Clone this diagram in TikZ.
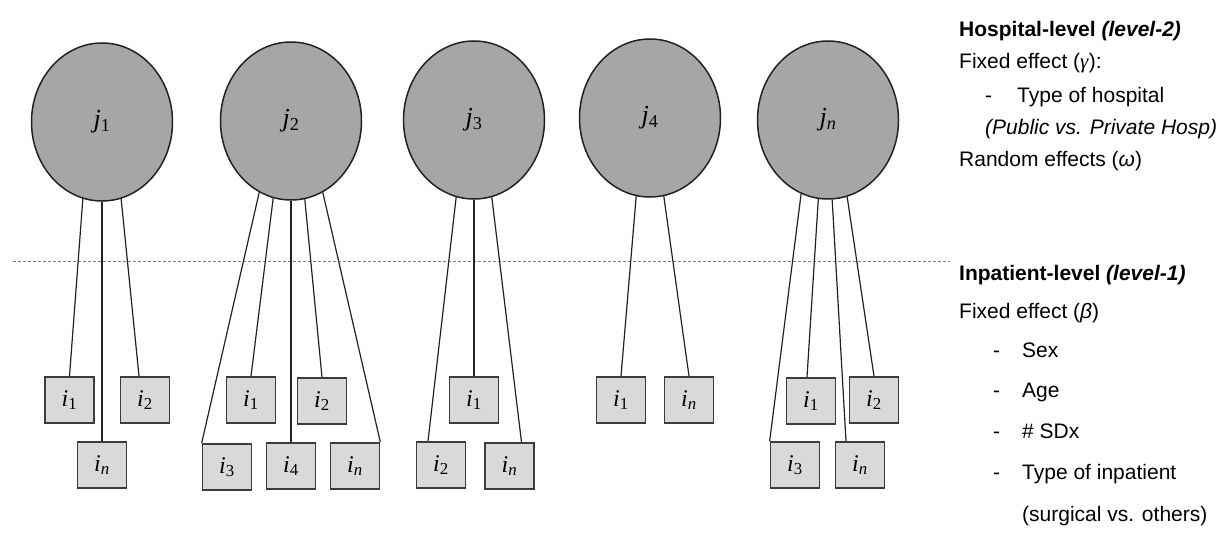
\documentclass[tikz,border=0pt]{standalone}
\usepackage{fontspec}
\setmainfont{Liberation Sans}
\newfontfamily\tmfont{Liberation Serif}
\usetikzlibrary{shapes.geometric}
\definecolor{rim}{RGB}{34,34,34}
\definecolor{boxrim}{RGB}{60,60,60}
\definecolor{hospfill}{RGB}{166,166,166}
\definecolor{patfill}{RGB}{217,217,217}
\definecolor{cut}{RGB}{128,128,128}

\begin{document}
\begin{tikzpicture}[x=1pt, y=-1pt, font=\fontsize{21}{25}\selectfont]
  \tikzset{
    hosp/.style={ellipse, draw=rim, line width=1.5pt, fill=hospfill,
      minimum width=141pt, minimum height=158pt, inner sep=0pt,
      font=\tmfont\fontsize{26}{26}\selectfont},
    pat/.style={rectangle, draw=boxrim, line width=1.7pt, fill=patfill,
      minimum width=49pt, minimum height=46pt, inner sep=0pt,
      font=\tmfont\fontsize{24}{24}\selectfont},
    link/.style={draw=rim, line width=1.2pt},
    split/.style={draw=cut, line width=1pt, dash pattern=on 3pt off 2pt},
    lbl/.style={anchor=base west, inner sep=0pt}}
  \useasboundingbox (0,0) rectangle (1218,535);

  % --- hospitals (level 2)
  \node[hosp] (j1) at (102,122) {\textit{j}\textsubscript{1}};
  \node[hosp] (j2) at (291,121) {\textit{j}\textsubscript{2}};
  \node[hosp] (j3) at (474,120) {\textit{j}\textsubscript{3}};
  \node[hosp] (j4) at (650,118) {\textit{j}\textsubscript{4}};
  \node[hosp] (jn) at (828,120) {\textit{j}\textsubscript{\textit{n}}};

  \draw[split] (13,261) -- (950,261);

  % --- inpatients (level 1)
  \node[pat] (j1b1) at (69.5,400) {\textit{i}\textsubscript{1}};
  \node[pat] (j1b2) at (145,400) {\textit{i}\textsubscript{2}};
  \node[pat] (j1bn) at (102,465) {\textit{i}\textsubscript{\textit{n}}};

  \node[pat] (j2b1) at (251,400) {\textit{i}\textsubscript{1}};
  \node[pat] (j2b2) at (322,401) {\textit{i}\textsubscript{2}};
  \node[pat] (j2b3) at (227,467) {\textit{i}\textsubscript{3}};
  \node[pat] (j2b4) at (291,466) {\textit{i}\textsubscript{4}};
  \node[pat] (j2bn) at (355,466) {\textit{i}\textsubscript{\textit{n}}};

  \node[pat] (j3b1) at (474,400) {\textit{i}\textsubscript{1}};
  \node[pat] (j3b2) at (441,465) {\textit{i}\textsubscript{2}};
  \node[pat] (j3bn) at (509.5,466) {\textit{i}\textsubscript{\textit{n}}};

  \node[pat] (j4b1) at (621,400) {\textit{i}\textsubscript{1}};
  \node[pat] (j4bn) at (689,400) {\textit{i}\textsubscript{\textit{n}}};

  \node[pat] (jnb1) at (811,401) {\textit{i}\textsubscript{1}};
  \node[pat] (jnb2) at (874,400) {\textit{i}\textsubscript{2}};
  \node[pat] (jnb3) at (795,465) {\textit{i}\textsubscript{3}};
  \node[pat] (jnbn) at (860,465) {\textit{i}\textsubscript{\textit{n}}};

  % --- nesting
  \draw[link] (j1.256) -- (j1b1.north);
  \draw[link] (j1.270) -- (j1bn.north);
  \draw[link] (j1.284) -- ([xshift=-6pt]j1b2.north);

  \draw[link] (j2.246) -- (j2b3.north west);
  \draw[link] (j2.257) -- (j2b1.north);
  \draw[link] (j2.270) -- (j2b4.north);
  \draw[link] (j2.280) -- (j2b2.north);
  \draw[link] (j2.294) -- (j2bn.north east);

  \draw[link] (j3.257) -- ([xshift=-13pt]j3b2.north);
  \draw[link] (j3.270) -- (j3b1.north);
  \draw[link] (j3.283) -- ([xshift=12pt]j3bn.north);

  \draw[link] (j4.260) -- (j4b1.north);
  \draw[link] (j4.280) -- (j4bn.north);

  \draw[link] (jn.250) -- (jnb3.north west);
  \draw[link] (jn.263) -- ([xshift=-4pt]jnb1.north);
  \draw[link] (jn.273) -- ([xshift=-14pt]jnbn.north);
  \draw[link] (jn.284) -- (jnb2.north);

  % --- what each level carries
  \node[lbl] (hlev) at (959,37) {\textbf{Hospital-level \textit{(level-2)}}};
  \node[lbl] (hfix) at (959,69) {Fixed effect ({\tmfont\textit{γ}}):};
  \node[lbl] (hdash) at (985,102) {-};
  \node[lbl] (htype) at (1017,102) {Type of hospital};
  \node[lbl] (hpub) at (985,134) {\textit{(Public vs. Private Hosp)}};
  \node[lbl] (hrand) at (959,166) {Random effects (\textit{ω})};

  \node[lbl] (plev) at (959,280) {\textbf{Inpatient-level \textit{(level-1)}}};
  \node[lbl] (pfix) at (959,318) {Fixed effect (\textit{β})};
  \foreach \y/\t [count=\k] in {357/Sex, 397/Age, 438/\# SDx, 479/Type of inpatient} {
    \node[lbl] (pdash\k) at (993,\y) {-};
    \node[lbl] (pitem\k) at (1022,\y) {\t};
  }
  \node[lbl] (psurg) at (1022,521) {(surgical vs. others)};
\end{tikzpicture}
\end{document}
